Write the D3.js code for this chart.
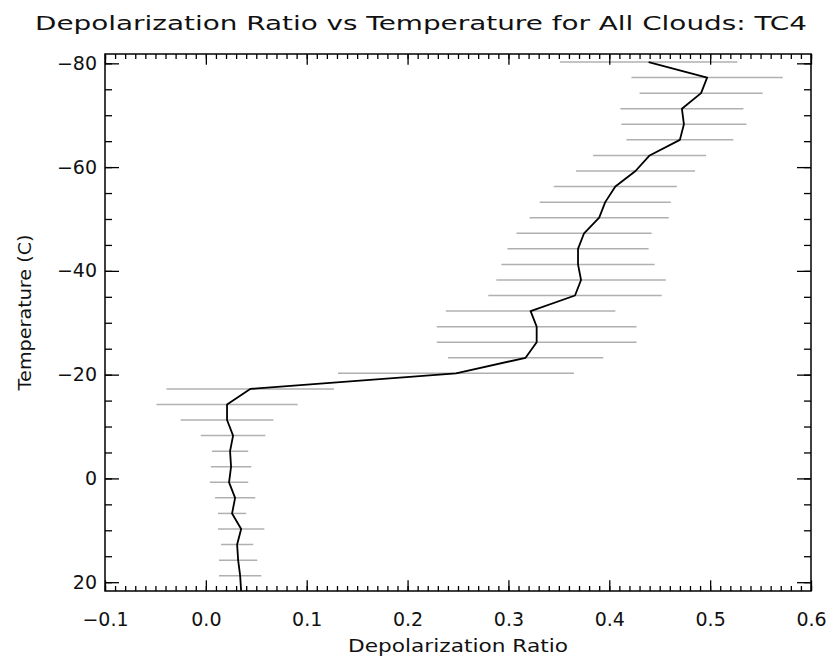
<!DOCTYPE html>
<html>
<head>
<meta charset="utf-8">
<script src="https://cdn.jsdelivr.net/npm/d3@7"></script>
<style>
  body { margin: 0; background: #fff; }
  text { font-family: "DejaVu Sans", sans-serif; fill: #111; }
</style>
</head>
<body>
<div id="chart"></div>
<script>
// temperature bin centres (C), top to bottom
const temps = [-80.25, -77.25, -74.25, -71.25, -68.25, -65.25, -62.25, -59.25, -56.25,
  -53.25, -50.25, -47.25, -44.25, -41.25, -38.25, -35.25, -32.25, -29.25, -26.25,
  -23.25, -20.25, -17.25, -14.25, -11.25, -8.25, -5.25, -2.25, 0.75, 3.75, 6.75,
  9.75, 12.75, 15.75, 18.75, 21.75];
// mean depolarization ratio per bin
const means = [0.439, 0.497, 0.491, 0.472, 0.474, 0.470, 0.440, 0.426, 0.406,
  0.396, 0.390, 0.375, 0.369, 0.369, 0.372, 0.366, 0.322, 0.328, 0.328,
  0.317, 0.248, 0.044, 0.021, 0.021, 0.027, 0.024, 0.025, 0.023, 0.029, 0.026,
  0.035, 0.031, 0.032, 0.034, 0.035];
// standard deviation per bin (half length of the grey bars)
const stds = [0.088, 0.075, 0.061, 0.061, 0.062, 0.053, 0.056, 0.059, 0.061,
  0.065, 0.069, 0.067, 0.070, 0.076, 0.084, 0.086, 0.084, 0.099, 0.099,
  0.077, 0.117, 0.083, 0.070, 0.046, 0.032, 0.018, 0.020, 0.019, 0.020, 0.014,
  0.023, 0.016, 0.019, 0.021, 0.020];

const xTicks = [-0.1, 0.0, 0.1, 0.2, 0.3, 0.4, 0.5, 0.6];
const yTicks = [-80, -60, -40, -20, 0, 20];

const W = 830, H = 660;
const margin = { top: 54, right: 19, bottom: 69, left: 105 };
const width = W - margin.left - margin.right;
const height = H - margin.top - margin.bottom;

const svg = d3.select('#chart').append('svg')
  .attr('width', W)
  .attr('height', H);

const g = svg.append('g')
  .attr('transform', `translate(${margin.left},${margin.top})`);

const x = d3.scaleLinear().domain([-0.1, 0.6]).range([0, width]);
const y = d3.scaleLinear().domain([-81.8, 21.7]).range([0, height]);

g.append('clipPath').attr('id', 'plotclip')
  .append('rect').attr('width', width).attr('height', height);

const data = temps.map((t, i) => ({ t: t, m: means[i], s: stds[i] }));

const plot = g.append('g').attr('clip-path', 'url(#plotclip)');

// error bars
plot.selectAll('.err')
  .data(data)
  .enter()
  .append('line')
  .attr('class', 'err')
  .attr('x1', d => x(d.m - d.s))
  .attr('x2', d => x(d.m + d.s))
  .attr('y1', d => y(d.t))
  .attr('y2', d => y(d.t))
  .attr('stroke', '#b0b0b0')
  .attr('stroke-width', 1.5);

// mean profile
const line = d3.line().x(d => x(d.m)).y(d => y(d.t));
plot.append('path')
  .datum(data)
  .attr('d', line)
  .attr('fill', 'none')
  .attr('stroke', '#000')
  .attr('stroke-width', 1.8)
  .attr('stroke-linejoin', 'round');

// axes, ticks pointing inward
const fmtX = d3.format('.1f');
const xMinor = d3.range(-100, 601, 10).map(v => v / 1000);
const yMinor = d3.range(-80, 21, 5);

const styleAxis = sel => {
  sel.select('.domain').remove();
  sel.selectAll('line').attr('stroke', '#000').attr('stroke-width', 1.3);
  sel.selectAll('text').style('font-size', '19px').attr('fill', '#111');
};

g.append('g').attr('transform', `translate(0,${height})`)
  .call(d3.axisBottom(x).tickValues(xMinor).tickSize(-5).tickFormat(''))
  .call(styleAxis);
g.append('g').attr('transform', `translate(0,${height})`)
  .call(d3.axisBottom(x).tickValues(xTicks).tickSize(-10.7).tickPadding(22).tickFormat(fmtX))
  .call(styleAxis);
g.append('g')
  .call(d3.axisTop(x).tickValues(xMinor).tickSize(-5).tickFormat(''))
  .call(styleAxis);
g.append('g')
  .call(d3.axisTop(x).tickValues(xTicks).tickSize(-10.7).tickFormat(''))
  .call(styleAxis);

g.append('g')
  .call(d3.axisLeft(y).tickValues(yMinor).tickSize(-7).tickFormat(''))
  .call(styleAxis);
g.append('g')
  .call(d3.axisLeft(y).tickValues(yTicks).tickSize(-14).tickPadding(8).tickFormat(d3.format('d')))
  .call(styleAxis);
g.append('g').attr('transform', `translate(${width},0)`)
  .call(d3.axisRight(y).tickValues(yMinor).tickSize(-7).tickFormat(''))
  .call(styleAxis);
g.append('g').attr('transform', `translate(${width},0)`)
  .call(d3.axisRight(y).tickValues(yTicks).tickSize(-14).tickFormat(''))
  .call(styleAxis);

// frame
g.append('rect')
  .attr('width', width)
  .attr('height', height)
  .attr('fill', 'none')
  .attr('stroke', '#000')
  .attr('stroke-width', 1.5);

// titles
svg.append('text')
  .attr('x', 421)
  .attr('y', 30)
  .attr('text-anchor', 'middle')
  .attr('textLength', 772)
  .attr('lengthAdjust', 'spacingAndGlyphs')
  .style('font-size', '20px')
  .text('Depolarization Ratio vs Temperature for All Clouds: TC4');

svg.append('text')
  .attr('x', margin.left + width / 2)
  .attr('y', 652)
  .attr('text-anchor', 'middle')
  .attr('textLength', 220)
  .attr('lengthAdjust', 'spacingAndGlyphs')
  .style('font-size', '17px')
  .text('Depolarization Ratio');

svg.append('text')
  .attr('transform', `translate(31,${margin.top + y(-32)}) rotate(-90)`)
  .attr('text-anchor', 'middle')
  .attr('textLength', 156)
  .attr('lengthAdjust', 'spacingAndGlyphs')
  .style('font-size', '17px')
  .text('Temperature (C)');
</script>
</body>
</html>
